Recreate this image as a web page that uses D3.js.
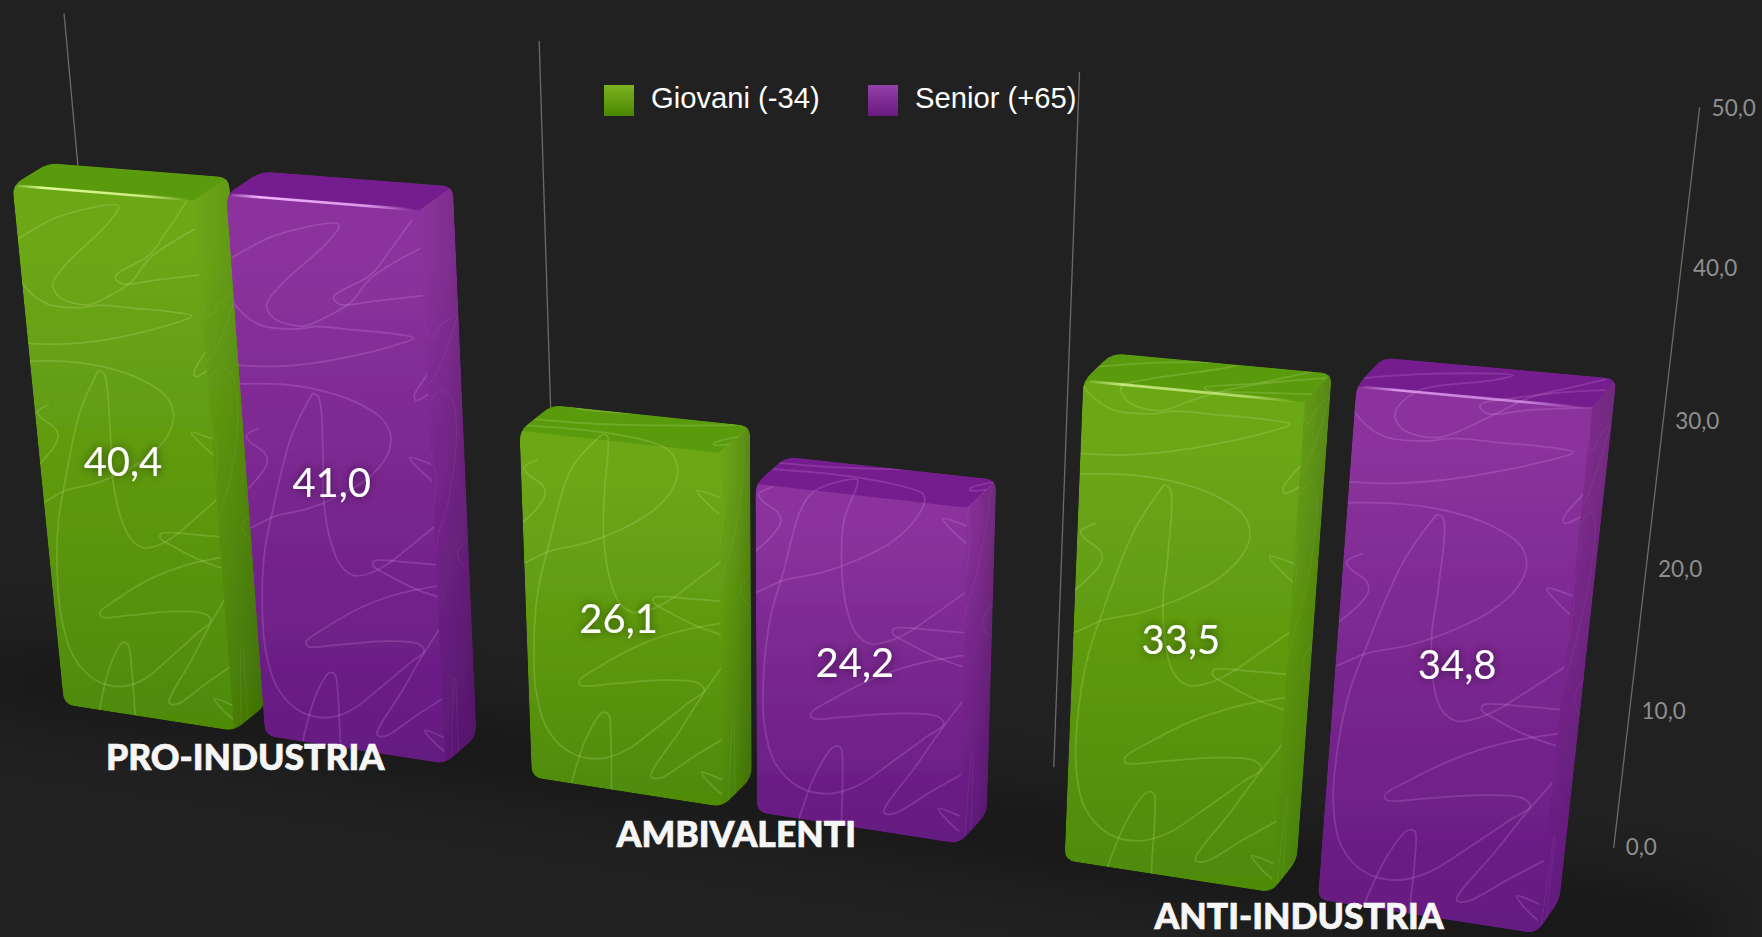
<!DOCTYPE html>
<html><head><meta charset="utf-8">
<script src="https://cdn.jsdelivr.net/npm/d3@7/dist/d3.min.js"></script>
<style>html,body{margin:0;padding:0;background:#212121;overflow:hidden}svg{display:block}</style>
</head><body><div id="chart"></div>
<script>
// ---- data ----
const categories = ["PRO-INDUSTRIA", "AMBIVALENTI", "ANTI-INDUSTRIA"];
const seriesNames = ["Giovani (-34)", "Senior (+65)"];
const giovani = [40.4, 26.1, 33.5];
const senior = [41.0, 24.2, 34.8];
const tickValues = [0, 10, 20, 30, 40, 50];
const topHighlight = [1, 0, 0.75];
// hand-drawn scribble decoration on the bars, in its own texture space
const scribbles = [
 [[91,23],[134,170],[220,243],[350,258],[430,250],[560,262],[700,275],[790,292],[700,320],[560,350],[400,375],[250,385],[120,380],[30,372]],
 [[60,60],[319,-61],[569,-98],[519,-40],[319,107],[255,175],[277,222],[380,248],[462,222],[570,170],[661,86],[861,-14]],
 [[875,144],[661,165],[530,175],[510,150],[661,75],[747,-8],[847,-113]],
 [[30,445],[250,445],[400,465],[540,510],[630,570],[650,630],[620,700],[540,770],[430,825],[300,870],[170,895],[85,930],[30,945]],
 [[380,478],[400,490],[385,700],[365,840],[370,985],[395,1065],[440,1098],[500,1090],[570,1060],[650,1010],[810,905]],
 [[380,478],[280,620],[165,885],[120,1005],[85,1165],[70,1345],[95,1475],[170,1555],[270,1575],[360,1550],[480,1475],[600,1395],[660,1355],[640,1330],[520,1320],[350,1330],[230,1335],[225,1320],[300,1275],[450,1205],[600,1160],[790,1130]],
 [[790,1068],[650,1055],[520,1050],[515,1065],[570,1100],[660,1145],[780,1185]],
 [[775,1230],[660,1360],[560,1485],[440,1635],[470,1640],[600,1570],[745,1495]],
 [[725,1665],[620,1623],[650,1665],[720,1725]],
 [[160,1655],[230,1505],[295,1425],[315,1430],[315,1505],[300,1655],[295,1720]],
 [[890,350],[760,490],[765,505],[900,430]],
 [[830,740],[710,700],[760,760],[820,810]],
 [[160,595],[110,620],[120,640],[170,680],[175,710],[100,790],[30,830]]
];

const W = 1762, H = 937, s = W / 1568;
const svg = d3.select("#chart").append("svg").attr("width", W).attr("height", H);
const defs = svg.append("defs");
svg.append("rect").attr("width", W).attr("height", H).attr("fill", "#212121");

// ---- camera: three vanishing points, world X 0..1, value, depth Z 0(back)..1(front) ----
const vpX = [-6209 * s, -348 * s], vpY = [700 * s, 7100 * s], vpZ = [3200 * s, -1800 * s], origin = [107 * s, 563 * s];
const wX = -0.17384, wY = -0.07774, wZ = -0.0246;
const yScale = d3.scaleLinear().domain([0, 50]).range([0, 1]);
const barStretch = d3.scaleLinear().domain([0, 50]).range([0, 51.5]);
function project(X, V, Z) {
  const t = yScale(V);
  const w = 1 + X * wX + t * wY + Z * wZ;
  return [
    (origin[0] + X * wX * vpX[0] + t * wY * vpY[0] + Z * wZ * vpZ[0]) / w,
    (origin[1] + X * wX * vpX[1] + t * wY * vpY[1] + Z * wZ * vpZ[1]) / w
  ];
}
function unprojectFront(x, y) {
  const c0 = [origin[0] + wZ * vpZ[0], origin[1] + wZ * vpZ[1], 1 + wZ];
  const cX = [wX * vpX[0], wX * vpX[1], wX], cT = [wY * vpY[0], wY * vpY[1], wY];
  const a = cX[0] - x * cX[2], b = cT[0] - x * cT[2], e = x * c0[2] - c0[0];
  const c = cX[1] - y * cX[2], d = cT[1] - y * cT[2], f = y * c0[2] - c0[1];
  const det = a * d - b * c;
  return [(e * d - b * f) / det, yScale.invert((a * f - e * c) / det)];
}

// ---- scales ----
const x0 = d3.scaleBand().domain(categories).range([-0.007, 1.025]).paddingInner(0.186).paddingOuter(0.093);
const x1 = d3.scaleBand().domain(seriesNames).range([0, x0.bandwidth()]).paddingInner(0.15);
// small lens correction: the reference's bars do not sit on a perfectly flat projection
const lens = d3.scaleLinear().domain([0.025, 0.305, 0.369, 0.649, 0.713, 0.8416, 0.8644, 0.993])
  .range([0, 0.007, 0.004, 0.006, 0.007, 0.001, 0.005, -0.002]);
const bx = X => X + lens(X);
const labelX = X => X + 0.008 * X - 0.0012;
const gridLens = d3.scaleLinear().domain([0, 0.5, 1]).range([0, 0.503, 1]);
const fmt = d3.formatLocale({decimal: ",", thousands: ".", grouping: [3], currency: ["", "€"]}).format(".1f");
const valueOf = [giovani, senior];
const palette = {
  [seriesNames[0]]: {top: "#6ca718", bot: "#4e8a06", lid: "#5a9a0a", hi: "#e2fb9a", sw: ["#7bb221", "#4a8700"], ink: "#dcf5a8"},
  [seriesNames[1]]: {top: "#8b329c", bot: "#641a80", lid: "#751f8f", hi: "#f3b2ff", sw: ["#9340a8", "#6a1a80"], ink: "#e8b4f2"}
};
const zFront = 1, zBack = 0.625;

// ---- gradients and filters ----
seriesNames.forEach((n, i) => {
  const h = defs.append("linearGradient").attr("id", "hi" + i);
  h.append("stop").attr("offset", 0).attr("stop-color", palette[n].hi).attr("stop-opacity", 0.2);
  h.append("stop").attr("offset", 0.15).attr("stop-color", palette[n].hi);
  h.append("stop").attr("offset", 0.75).attr("stop-color", palette[n].hi).attr("stop-opacity", 0.8);
  h.append("stop").attr("offset", 1).attr("stop-color", palette[n].hi).attr("stop-opacity", 0);
  const l = defs.append("linearGradient").attr("id", "sw" + i).attr("x1", 0).attr("x2", 0).attr("y1", 0).attr("y2", 1);
  l.append("stop").attr("offset", 0).attr("stop-color", palette[n].sw[0]);
  l.append("stop").attr("offset", 1).attr("stop-color", palette[n].sw[1]);
});
const sideG = defs.append("linearGradient").attr("id", "sideShade");
sideG.append("stop").attr("offset", 0).attr("stop-color", "#000").attr("stop-opacity", 0);
sideG.append("stop").attr("offset", 0.5).attr("stop-color", "#000").attr("stop-opacity", 0.08);
sideG.append("stop").attr("offset", 1).attr("stop-color", "#000").attr("stop-opacity", 0.2);
defs.append("filter").attr("id", "floorBlur").attr("x", "-20%").attr("y", "-60%").attr("width", "140%").attr("height", "220%")
  .append("feGaussianBlur").attr("stdDeviation", 34);
defs.append("filter").attr("id", "soft").append("feGaussianBlur").attr("stdDeviation", 0.55);
const glow = defs.append("filter").attr("id", "glow").attr("x", "-30%").attr("y", "-40%").attr("width", "160%").attr("height", "180%");
glow.append("feGaussianBlur").attr("in", "SourceAlpha").attr("stdDeviation", 5).attr("result", "b");
glow.append("feFlood").attr("flood-color", "#000").attr("flood-opacity", 0.55);
glow.append("feComposite").attr("in2", "b").attr("operator", "in").attr("result", "s");
const gm = glow.append("feMerge");
gm.append("feMergeNode").attr("in", "s");
gm.append("feMergeNode").attr("in", "SourceGraphic");

// ---- helpers ----
const poly = pts => "M" + pts.map(p => p.join(",")).join("L") + "Z";
function rounded(pts, r) {
  const n = pts.length;
  let d = "";
  pts.forEach((v, i) => {
    const a = pts[(i + n - 1) % n], b = pts[(i + 1) % n];
    const la = Math.hypot(a[0] - v[0], a[1] - v[1]), lb = Math.hypot(b[0] - v[0], b[1] - v[1]);
    const ra = Math.min(r, la / 2), rb = Math.min(r, lb / 2);
    const p0 = [v[0] + (a[0] - v[0]) * ra / la, v[1] + (a[1] - v[1]) * ra / la];
    const p1 = [v[0] + (b[0] - v[0]) * rb / lb, v[1] + (b[1] - v[1]) * rb / lb];
    d += (i ? "L" : "M") + p0.join(",") + "Q" + v.join(",") + " " + p1.join(",");
  });
  return d + "Z";
}
const curve = d3.line().curve(d3.curveCatmullRom.alpha(0.5));

// ---- floor shadow ----
svg.append("path").attr("fill", "#000").attr("opacity", 0.42).attr("filter", "url(#floorBlur)")
  .attr("d", poly([project(-0.06, 0, 0.5), project(1.08, 0, 0.5), project(1.08, 0, 1.05), project(-0.06, 0, 1.05)]));

// ---- category dividers and value axis ----
const gridXs = d3.range(categories.length + 1).map(i => gridLens(i / categories.length));
svg.append("g").selectAll("line").data(gridXs).join("line")
  .attr("x1", d => project(d, 0, 0)[0]).attr("y1", d => project(d, 0, 0)[1])
  .attr("x2", d => project(d, 50, 0)[0]).attr("y2", d => project(d, 50, 0)[1])
  .attr("stroke", "#6a6a6a").attr("stroke-width", 1.3);
svg.append("g").selectAll("text").data(tickValues).join("text")
  .attr("x", d => project(1, d, 0)[0] + 12).attr("y", d => project(1, d, 0)[1] + yScale(d) * 2 - 1)
  .attr("dy", "0.35em").attr("fill", "#8f8f8f")
  .attr("font-family", "Lato").attr("font-size", 22.5).text(d => fmt(d));

// ---- scribble texture: texture space -> (u across face, value) ----
const refCat = categories[2], refSer = seriesNames[1];
const refX0 = bx(x0(refCat) + x1(refSer)), refW = bx(x0(refCat) + x1(refSer) + x1.bandwidth()) - refX0;
const scribbleUV = scribbles.map(st => st.map(([tx, ty]) => {
  const [X, V] = unprojectFront(1310 + tx / 3, 355 + ty / 3);
  return [(X - refX0) / refW, V];
}));

// ---- bars ----
const bars = categories.flatMap((c, ci) => seriesNames.map((n, si) => ({c, ci, n, si, v: valueOf[si][ci]})));
const barsG = svg.append("g");
barsG.selectAll("g.bar").data(bars).join("g").attr("class", "bar").each(function (d, i) {
  const g = d3.select(this);
  const xa = bx(x0(d.c) + x1(d.n)), xb = bx(x0(d.c) + x1(d.n) + x1.bandwidth()), top = barStretch(d.v);
  const FTL = project(xa, top, zFront), FTR = project(xb, top, zFront), FBL = project(xa, 0, zFront), FBR = project(xb, 0, zFront);
  const BTL = project(xa, top, zBack), BTR = project(xb, top, zBack), BBR = project(xb, 0, zBack);
  const sid = "sil" + i;
  const outline = [FTL, BTL, BTR, BBR, FBR, FBL];
  defs.append("clipPath").attr("id", sid).append("path").attr("d", rounded(outline, 11));
  const fid = "face" + i;
  const fg = defs.append("linearGradient").attr("id", fid).attr("gradientUnits", "userSpaceOnUse")
    .attr("x1", 0).attr("x2", 0).attr("y1", FTL[1]).attr("y2", FBR[1]);
  fg.append("stop").attr("offset", 0.12).attr("stop-color", palette[d.n].top);
  fg.append("stop").attr("offset", 1).attr("stop-color", palette[d.n].bot);
  const inner = g.append("g").attr("clip-path", `url(#${sid})`);
  const side = [FTR, BTR, BBR, FBR];
  // front and side share one soft body so the edge between them melts
  const body = inner.append("g").attr("filter", "url(#soft)");
  body.append("path").attr("d", poly(outline)).attr("fill", `url(#${fid})`);
  body.append("path").attr("d", poly(side)).attr("fill", "url(#sideShade)");
  body.append("path").attr("d", poly([FTL, BTL, BTR, FTR])).attr("fill", palette[d.n].lid);
  // scribbles over front and top
  const cid = "tex" + i;
  const cp = defs.append("clipPath").attr("id", cid);
  cp.append("path").attr("d", poly([FTL, BTL, BTR, FTR]));
  cp.append("path").attr("d", poly([FTL, FTR, FBR, FBL]));
  const mapFace = ([u, V]) => {
    const X = xa + u * (xb - xa);
    return V > top ? project(X, top, zFront - (V - top) / 6 * (zFront - zBack)) : project(X, V, zFront);
  };
  inner.append("g").attr("clip-path", `url(#${cid})`).selectAll("path").data(scribbleUV).join("path")
    .attr("d", st => curve(st.map(mapFace))).attr("fill", "none")
    .attr("stroke", palette[d.n].ink).attr("stroke-opacity", 0.18).attr("stroke-width", 1.8);
  // scribbles wrapped on the side, very faint
  const sc = "side" + i;
  defs.append("clipPath").attr("id", sc).append("path").attr("d", poly(side));
  const mapSide = ([u, V]) => project(xb, Math.min(V, top), zFront - u * (zFront - zBack));
  inner.append("g").attr("clip-path", `url(#${sc})`).selectAll("path").data(scribbleUV.filter((e, k) => k % 3 === 0)).join("path")
    .attr("d", st => curve(st.map(mapSide))).attr("fill", "none")
    .attr("stroke", palette[d.n].ink).attr("stroke-opacity", 0.07).attr("stroke-width", 1.2);
  // bright lip
  const alpha = topHighlight[d.ci];
  if (alpha > 0) {
    const a = project(xa + 0.03 * (xb - xa), top, zFront), b = project(xb - 0.03 * (xb - xa), top, zFront);
    inner.append("path").attr("d", `M${a}L${b}`).attr("fill", "none").attr("stroke", `url(#hi${d.si})`)
      .attr("stroke-width", 2.6).attr("opacity", alpha);
  }
});

// ---- value labels on the faces ----
const labelAt = d => project(labelX(x0(d.c) + x1(d.n) + x1.bandwidth() / 2), barStretch(d.v) / 2, zFront);
svg.append("g").selectAll("text").data(bars).join("text")
  .attr("x", d => labelAt(d)[0]).attr("y", d => labelAt(d)[1] - 2)
  .attr("dy", "0.35em").attr("text-anchor", "middle").attr("fill", "#fff").attr("filter", "url(#glow)")
  .attr("font-family", "Lato").attr("font-size", 40).text(d => fmt(d.v));

// ---- category labels ----
const catAt = d => project(labelX(x0(d) + x0.bandwidth() / 2), 0, zFront);
svg.append("g").selectAll("text").data(categories).join("text")
  .attr("x", d => catAt(d)[0]).attr("y", d => Math.min(catAt(d)[1] + 25, H - 20))
  .attr("dy", "0.35em").attr("text-anchor", "middle").attr("fill", "#f6f6f6")
  .attr("stroke", "#f6f6f6").attr("stroke-width", 0.7)
  .attr("font-family", "Lato").attr("font-weight", 900).attr("font-size", 35.5).text(d => d);

// ---- legend ----
const legendX = d3.scalePoint().domain(seriesNames).range([604, 868]);
const lg = svg.append("g").selectAll("g").data(seriesNames).join("g").attr("transform", d => `translate(${legendX(d)},85)`);
lg.append("rect").attr("width", 30).attr("height", 31).attr("fill", (d, i) => `url(#sw${i})`);
lg.append("text").attr("x", 47).attr("y", 23).attr("fill", "#fff")
  .attr("font-family", "Liberation Sans, Arial, sans-serif").attr("font-size", 29.2).text(d => d);
</script></body></html>
